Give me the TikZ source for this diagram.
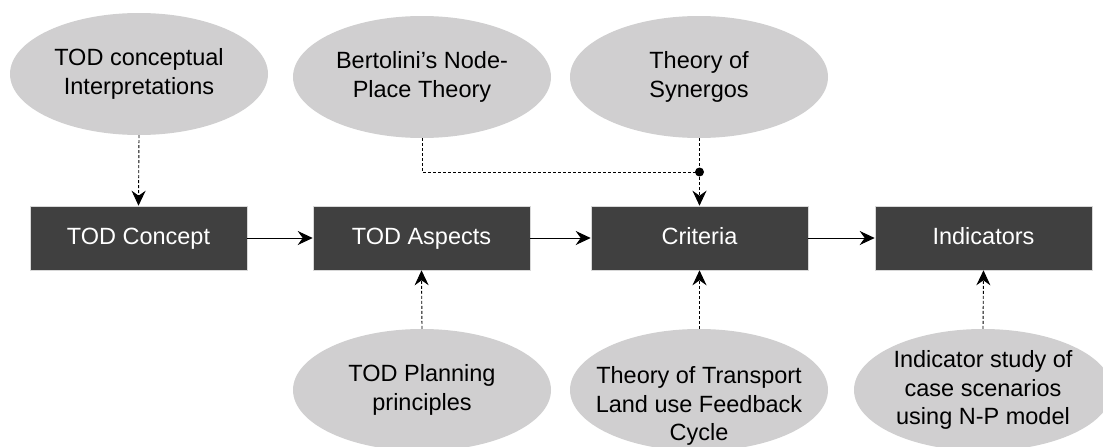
\documentclass[tikz,border=0pt]{standalone}
\usepackage{fontspec}
\setmainfont{Liberation Sans}
\usetikzlibrary{shapes.geometric,arrows.meta}
\definecolor{ellfill}{HTML}{D0CFD0}
\definecolor{boxfill}{HTML}{404040}
\definecolor{boxline}{HTML}{D8D8D8}
\tikzset{
  oval/.style={ellipse, fill=ellfill, draw=none, minimum width=258pt, minimum height=122pt, inner sep=0pt, align=center, font=\fontsize{23.5}{28.5}\selectfont},
  ovaltext/.style={align=center, inner sep=0pt, font=\fontsize{23.5}{28.5}\selectfont},
  stagebox/.style={rectangle, fill=boxfill, draw=boxline, line width=0.6pt, minimum width=217pt, minimum height=64pt, inner sep=0pt, text=white, text height=17pt, text depth=4pt, font=\fontsize{23.5}{28.5}\selectfont},
  tip/.style={-{Stealth[length=15pt,width=14pt,inset=5pt]}},
  dashedlink/.style={dash pattern=on 3pt off 2pt, line width=0.9pt},
  solidlink/.style={line width=1pt},
}
\begin{document}
\begin{tikzpicture}[x=1pt,y=-1pt]
\useasboundingbox (0,0) rectangle (1103,447);
% top ellipses
\node[oval] (interp) at (139,74) {TOD conceptual\\Interpretations};
\node[oval] (bert) at (422,77) {Bertolini’s Node-\\Place Theory};
\node[oval] (syn) at (699,77) {Theory of\\Synergos};
% boxes
\node[stagebox] (concept) at (138.5,238) {TOD Concept};
\node[stagebox] (aspects) at (421.5,238) {TOD Aspects};
\node[stagebox] (crit) at (699.5,238) {Criteria};
\node[stagebox] (ind) at (983.5,238) {Indicators};
% bottom ellipses
\node[oval] (plan) at (422,390) {TOD Planning\\principles};
\node[oval] (tlu) at (699,390) {};
\node[ovaltext] (tlutext) at (699,406) {Theory of Transport\\Land use Feedback\\Cycle};
\node[oval] (study) at (983,390) {Indicator study of\\case scenarios\\using N-P model};
% junction
\coordinate (dot) at (699.5,172);
% connectors
\draw[dashedlink,tip] (interp.south) -- (concept.north);
\draw[dashedlink] (bert.south) |- (dot);
\draw[dashedlink] (syn.south -| dot) -- (dot);
\draw[dashedlink,tip] (dot) -- (crit.north);
\fill (dot) circle (4.5pt);
\draw[solidlink,tip] (concept.east) -- (aspects.west);
\draw[solidlink,tip] (aspects.east) -- (crit.west);
\draw[solidlink,tip] (crit.east) -- (ind.west);
\draw[dashedlink,tip] (plan.north) -- (aspects.south);
\draw[dashedlink,tip] (tlu.north -| crit) -- (crit.south);
\draw[dashedlink,tip] (study.north) -- (ind.south);
\end{tikzpicture}
\end{document}
